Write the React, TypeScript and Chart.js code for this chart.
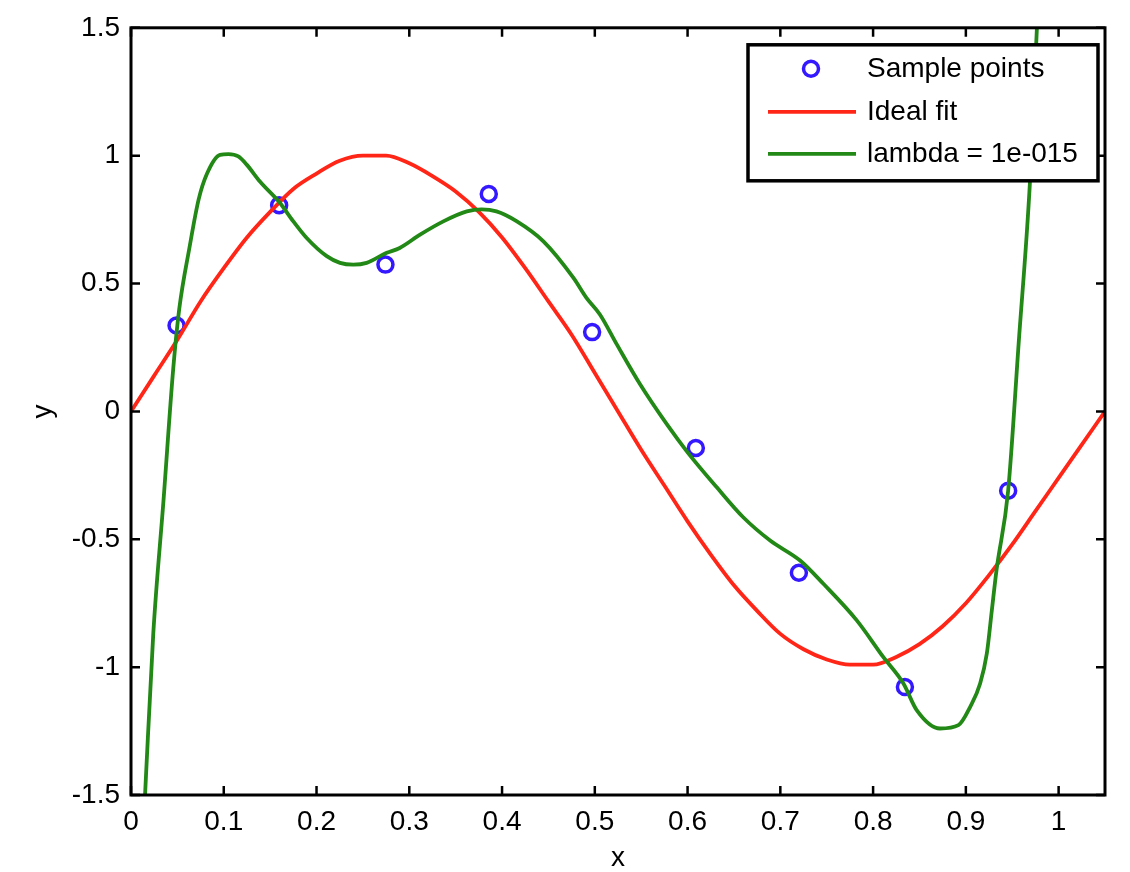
import React, { useEffect, useRef } from "react";
import { Chart, registerables } from "chart.js";

Chart.register(...registerables);

// ---- data ----
const sampleX = [0.0491, 0.1597, 0.2743, 0.3857, 0.4971, 0.6089, 0.72, 0.8343, 0.9456];
const sampleY = [0.336, 0.806, 0.574, 0.85, 0.31, -0.143, -0.631, -1.078, -0.31];

const idealX = [0, 0.025, 0.05, 0.075, 0.1, 0.125, 0.15, 0.175, 0.2, 0.225, 0.25, 0.275, 0.3, 0.325, 0.35, 0.375, 0.4, 0.425, 0.45, 0.475, 0.5, 0.525, 0.55, 0.575, 0.6, 0.625, 0.65, 0.675, 0.7, 0.725, 0.75, 0.775, 0.8, 0.825, 0.85, 0.875, 0.9, 0.925, 0.95, 0.975, 1.0, 1.025, 1.05];
const idealY = [0, 0.14, 0.28, 0.43, 0.56, 0.68, 0.78, 0.87, 0.93, 0.98, 1.0, 1.0, 0.97, 0.92, 0.86, 0.78, 0.68, 0.56, 0.43, 0.3, 0.15, 0.0, -0.15, -0.29, -0.43, -0.56, -0.68, -0.78, -0.87, -0.93, -0.97, -0.99, -0.99, -0.96, -0.91, -0.84, -0.75, -0.64, -0.52, -0.39, -0.26, -0.13, 0];

const lambdaX = [0.008, 0.015, 0.024, 0.035, 0.0456, 0.052, 0.063, 0.073, 0.082, 0.096, 0.105, 0.1157, 0.1247, 0.139, 0.1606, 0.175, 0.1894, 0.211, 0.2253, 0.2397, 0.254, 0.2757, 0.2897, 0.3116, 0.3367, 0.362, 0.378, 0.394, 0.416, 0.4446, 0.477, 0.491, 0.5055, 0.5237, 0.5488, 0.5776, 0.6, 0.6315, 0.66, 0.689, 0.7213, 0.7464, 0.7824, 0.8111, 0.8327, 0.847, 0.8722, 0.892, 0.9046, 0.9154, 0.9226, 0.928, 0.933, 0.9456, 0.957, 0.969, 0.9766, 0.985];
const lambdaY = [-2.0, -1.51, -0.87, -0.35, 0.17, 0.4, 0.64, 0.83, 0.93, 1.003, 1.006, 0.997, 0.965, 0.899, 0.815, 0.743, 0.678, 0.607, 0.581, 0.574, 0.581, 0.62, 0.639, 0.691, 0.743, 0.782, 0.79, 0.782, 0.743, 0.665, 0.522, 0.444, 0.379, 0.262, 0.106, -0.05, -0.16, -0.297, -0.414, -0.505, -0.583, -0.674, -0.817, -0.961, -1.064, -1.168, -1.24, -1.227, -1.156, -1.064, -0.947, -0.778, -0.622, -0.31, 0.27, 0.891, 1.5, 2.3];

const xTicks = [0, 0.1, 0.2, 0.3, 0.4, 0.5, 0.6, 0.7, 0.8, 0.9, 1.0];
const xTickLabels = ["0", "0.1", "0.2", "0.3", "0.4", "0.5", "0.6", "0.7", "0.8", "0.9", "1"];
const yTicks = [-1.5, -1, -0.5, 0, 0.5, 1, 1.5];
const yTickLabels = ["-1.5", "-1", "-0.5", "0", "0.5", "1", "1.5"];

const seriesLabels = ["Sample points", "Ideal fit", "lambda = 1e-015"];

const BLUE = "rgb(52,24,255)";
const RED = "rgb(255,38,24)";
const GREEN = "rgb(34,136,22)";
const FONT = "'Liberation Sans', Arial, Helvetica, sans-serif";
const FS = 28;

const boxPlugin = {
  id: "matlabBox",
  afterDatasetsDraw(chart: any) {
    const { ctx, chartArea, scales } = chart;
    const { left, right, top, bottom } = chartArea;
    ctx.save();
    ctx.strokeStyle = "#000";
    // ticks (inward, all four sides)
    ctx.lineWidth = 2.5;
    const tl = 9;
    ctx.beginPath();
    xTicks.forEach((v) => {
      const px = scales.x.getPixelForValue(v);
      ctx.moveTo(px, bottom);
      ctx.lineTo(px, bottom - tl);
      ctx.moveTo(px, top);
      ctx.lineTo(px, top + tl);
    });
    yTicks.forEach((v) => {
      const py = scales.y.getPixelForValue(v);
      ctx.moveTo(left, py);
      ctx.lineTo(left + tl, py);
      ctx.moveTo(right, py);
      ctx.lineTo(right - tl, py);
    });
    ctx.stroke();
    // box
    ctx.lineWidth = 3;
    ctx.strokeRect(left, top, right - left, bottom - top);

    // legend
    const bx0 = right - 357;
    const by0 = top + 17;
    const bw = 350;
    const bh = 136;
    ctx.fillStyle = "#fff";
    ctx.fillRect(bx0, by0, bw, bh);
    ctx.lineWidth = 3.5;
    ctx.strokeStyle = "#000";
    ctx.strokeRect(bx0, by0, bw, bh);

    const rows = [by0 + 24, by0 + 67, by0 + 109];
    // marker
    ctx.beginPath();
    ctx.strokeStyle = BLUE;
    ctx.lineWidth = 3.5;
    ctx.arc(bx0 + 63, rows[0], 7.5, 0, Math.PI * 2);
    ctx.stroke();
    // lines
    ctx.lineWidth = 3.8;
    ctx.strokeStyle = RED;
    ctx.beginPath();
    ctx.moveTo(bx0 + 20, rows[1]);
    ctx.lineTo(bx0 + 108, rows[1]);
    ctx.stroke();
    ctx.strokeStyle = GREEN;
    ctx.beginPath();
    ctx.moveTo(bx0 + 20, rows[2]);
    ctx.lineTo(bx0 + 108, rows[2]);
    ctx.stroke();
    // text
    ctx.fillStyle = "#000";
    ctx.font = `${FS}px ${FONT}`;
    ctx.textAlign = "left";
    ctx.textBaseline = "middle";
    seriesLabels.forEach((t, i) => ctx.fillText(t, bx0 + 119, rows[i]));
    ctx.restore();
  },
};

export default function App() {
  const ref = useRef<HTMLCanvasElement>(null);
  useEffect(() => {
    if (!ref.current) return;
    const font = { family: FONT, size: FS };
    const chart = new Chart(ref.current, {
      type: "scatter",
      data: {
        datasets: [
          {
            label: seriesLabels[0],
            data: sampleX.map((x, i) => ({ x, y: sampleY[i] })),
            showLine: false,
            pointStyle: "circle",
            pointRadius: 7.5,
            pointBorderWidth: 3.5,
            pointBorderColor: BLUE,
            pointBackgroundColor: "rgba(0,0,0,0)",
            order: 3,
          },
          {
            label: seriesLabels[1],
            data: idealX.map((x, i) => ({ x, y: idealY[i] })),
            showLine: true,
            borderColor: RED,
            borderWidth: 3.8,
            pointRadius: 0,
            cubicInterpolationMode: "monotone",
            order: 2,
            clip: 0,
          },
          {
            label: seriesLabels[2],
            data: lambdaX.map((x, i) => ({ x, y: lambdaY[i] })),
            showLine: true,
            borderColor: GREEN,
            borderWidth: 3.8,
            pointRadius: 0,
            cubicInterpolationMode: "monotone",
            order: 1,
            clip: 0,
          },
        ],
      },
      options: {
        responsive: false,
        animation: false,
        devicePixelRatio: 1,
        layout: { padding: { top: 26, right: 25, left: 0, bottom: 0 } },
        plugins: { legend: { display: false }, tooltip: { enabled: false } },
        scales: {
          x: {
            type: "linear",
            min: 0,
            max: 1.05,
            afterBuildTicks: (s: any) => {
              s.ticks = xTicks.map((v) => ({ value: v }));
            },
            afterFit: (s: any) => {
              s.height = 77;
            },
            grid: { display: false, drawTicks: false },
            border: { display: false },
            ticks: {
              padding: 10,
              color: "#000",
              font,
              maxRotation: 0,
              autoSkip: false,
              callback: (_v: any, i: number) => xTickLabels[i],
            },
            title: {
              display: true,
              text: "x",
              color: "#000",
              font: { family: FONT, size: FS, lineHeight: 1.0 },
              padding: 0,
            },
          },
          y: {
            type: "linear",
            min: -1.5,
            max: 1.5,
            afterBuildTicks: (s: any) => {
              s.ticks = yTicks.map((v) => ({ value: v }));
            },
            afterFit: (s: any) => {
              s.width = 131;
            },
            grid: { display: false, drawTicks: false },
            border: { display: false },
            ticks: {
              padding: 11,
              color: "#000",
              font,
              autoSkip: false,
              callback: (_v: any, i: number) => yTickLabels[i],
            },
            title: {
              display: true,
              text: "y",
              color: "#000",
              font: { family: FONT, size: FS, lineHeight: 1.1 },
              padding: { top: 28, bottom: 0 },
            },
          },
        },
      },
      plugins: [boxPlugin],
    } as any);
    return () => chart.destroy();
  }, []);
  return (
    <div style={{ position: "absolute", left: 0, top: 0, width: 1130, height: 872, background: "#fff" }}>
      <canvas ref={ref} width={1130} height={872} style={{ display: "block" }} />
    </div>
  );
}
